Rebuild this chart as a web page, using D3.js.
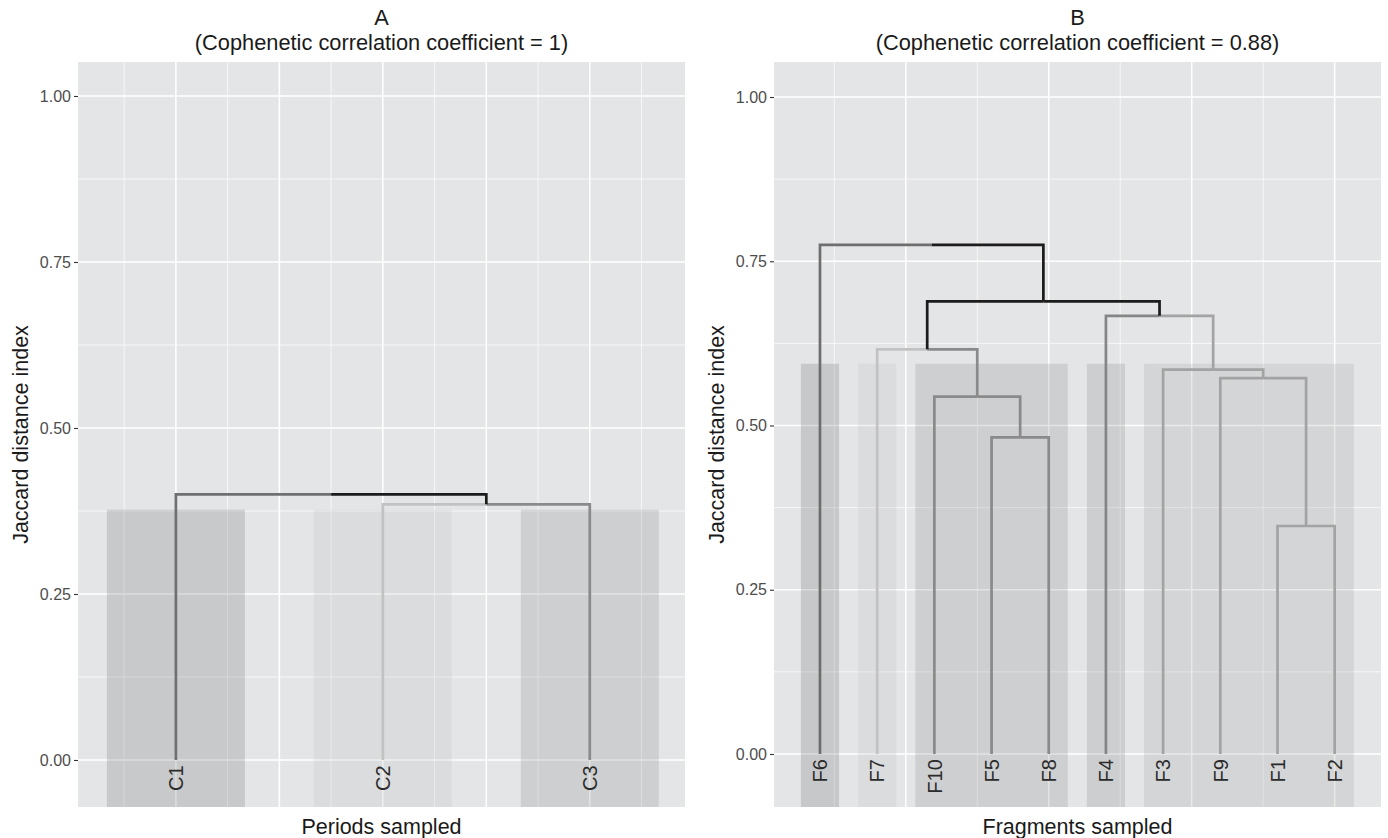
<!DOCTYPE html>
<html>
<head>
<meta charset="utf-8">
<script src="https://cdn.jsdelivr.net/npm/d3@7"></script>
<style>
  body { margin: 0; background: #fff; }
  svg { display: block; font-family: "Liberation Sans", Arial, sans-serif; }
</style>
</head>
<body>
<svg id="chart" width="1388" height="838"></svg>
<script>
// ---- panel A : periods
var titleA = ["A", "(Cophenetic correlation coefficient = 1)"];
var xTitleA = "Periods sampled";
var leavesA = ["C1", "C2", "C3"];              // leaf order left to right
var mergeA = [[-2, -3], [-1, 1]];               // hclust style merges (neg = leaf position)
var heightA = [0.385, 0.400];
var clusterA = [1, 2, 3];                        // cluster of each leaf
var clusterColorsA = ["#707070", "#c2c2c2", "#8a8a8a"];
var rectTopA = 0.377;

// ---- panel B : fragments
var titleB = ["B", "(Cophenetic correlation coefficient = 0.88)"];
var xTitleB = "Fragments sampled";
var leavesB = ["F6", "F7", "F10", "F5", "F8", "F4", "F3", "F9", "F1", "F2"];
var mergeB = [[-9, -10], [-4, -5], [-3, 2], [-8, 1], [-7, 4], [-2, 3], [-6, 5], [6, 7], [-1, 8]];
var heightB = [0.347, 0.482, 0.544, 0.572, 0.585, 0.616, 0.667, 0.689, 0.775];
var clusterB = [1, 2, 3, 3, 3, 4, 5, 5, 5, 5];
var clusterColorsB = ["#6e6e6e", "#c2c2c2", "#8a8a8a", "#858585", "#a3a3a3"];
var rectTopB = 0.594;

var yTicks = [0, 0.25, 0.5, 0.75, 1];
var yMinor = [0.125, 0.375, 0.625, 0.875];
var yTitle = "Jaccard distance index";

var svg = d3.select("#chart");

function drawPanel(opt) {
    var x = d3.scaleLinear().domain(opt.xDomain).range([opt.left, opt.right]);
    var y = d3.scaleLinear().domain(opt.yDomain).range([opt.bottom, opt.top]);
    var g = svg.append("g");

    // panel background
    g.append("rect")
        .attr("x", opt.left).attr("y", opt.top)
        .attr("width", opt.right - opt.left).attr("height", opt.bottom - opt.top)
        .attr("fill", "#e4e5e7");

    // grid lines
    g.selectAll(".hmin").data(yMinor).enter().append("line")
        .attr("x1", opt.left).attr("x2", opt.right)
        .attr("y1", function (d) { return y(d); }).attr("y2", function (d) { return y(d); })
        .attr("stroke", "#fff").attr("stroke-width", 0.7);
    g.selectAll(".vmin").data(opt.xMinor).enter().append("line")
        .attr("y1", opt.top).attr("y2", opt.bottom)
        .attr("x1", function (d) { return x(d); }).attr("x2", function (d) { return x(d); })
        .attr("stroke", "#fff").attr("stroke-width", 0.7);
    g.selectAll(".hmaj").data(yTicks).enter().append("line")
        .attr("x1", opt.left).attr("x2", opt.right)
        .attr("y1", function (d) { return y(d); }).attr("y2", function (d) { return y(d); })
        .attr("stroke", "#fff").attr("stroke-width", 1.5);
    g.selectAll(".vmaj").data(opt.xMajor).enter().append("line")
        .attr("y1", opt.top).attr("y2", opt.bottom)
        .attr("x1", function (d) { return x(d); }).attr("x2", function (d) { return x(d); })
        .attr("stroke", "#fff").attr("stroke-width", 1.5);

    // build the tree from the merge table
    var nodes = [];
    opt.leaves.forEach(function (name, i) {
        nodes.push({ x: i + 1, h: 0, leaves: [i], name: name });
    });
    var internal = opt.merge.map(function (m, i) {
        return { pair: m, h: opt.heights[i] };
    });
    function getNode(k) { return k < 0 ? nodes[-k - 1] : internal[k - 1]; }
    internal.forEach(function (n) {
        var a = getNode(n.pair[0]), b = getNode(n.pair[1]);
        n.children = [a, b];
        n.x = (a.x + b.x) / 2;
        n.leaves = a.leaves.concat(b.leaves);
        a.parent = n; b.parent = n;
    });
    var all = nodes.concat(internal);
    all.forEach(function (n) {
        var cl = n.leaves.map(function (i) { return opt.cluster[i]; });
        var same = cl.every(function (c) { return c === cl[0]; });
        n.color = same ? opt.colors[cl[0] - 1] : "#1c1c1c";
    });

    // cluster rectangles
    var clusters = d3.groups(opt.leaves.map(function (d, i) { return { i: i + 1, c: opt.cluster[i] }; }),
        function (d) { return d.c; });
    g.selectAll(".clrect").data(clusters).enter().append("rect")
        .attr("x", function (d) { return x(d3.min(d[1], function (e) { return e.i; }) - 1 / 3); })
        .attr("width", function (d) {
            return x(d3.max(d[1], function (e) { return e.i; }) + 1 / 3) - x(d3.min(d[1], function (e) { return e.i; }) - 1 / 3);
        })
        .attr("y", y(opt.rectTop))
        .attr("height", opt.bottom - y(opt.rectTop))
        .attr("fill", function (d) { return opt.colors[d[0] - 1]; })
        .attr("fill-opacity", 0.24);

    // branches
    g.selectAll(".branch").data(all.filter(function (n) { return n.parent; })).enter().append("path")
        .attr("d", function (n) {
            return "M" + x(n.x) + "," + y(n.h) + "V" + y(n.parent.h) + "H" + x(n.parent.x);
        })
        .attr("fill", "none")
        .attr("stroke", function (n) { return n.color; })
        .attr("stroke-width", 2.7)
        .attr("stroke-linejoin", "miter");

    // leaf labels
    g.selectAll(".leaf").data(nodes).enter().append("text")
        .attr("transform", function (n) { return "translate(" + x(n.x) + "," + y(-0.008) + ") rotate(-90)"; })
        .attr("text-anchor", "end")
        .attr("dy", "0.36em")
        .attr("font-size", 20)
        .attr("fill", "#2b2b2b")
        .text(function (n) { return n.name; });

    // y axis
    var yAxis = g.append("g")
        .attr("transform", "translate(" + opt.left + ",0)")
        .call(d3.axisLeft(y).tickValues(yTicks).tickFormat(d3.format(".2f")).tickSize(4).tickPadding(3));
    yAxis.select(".domain").remove();
    yAxis.selectAll(".tick line").attr("stroke", "#333").attr("stroke-width", 1.1);
    yAxis.selectAll(".tick text")
        .attr("fill", "#4d4d4d")
        .attr("font-size", 16)
        .attr("font-family", "Liberation Sans, Arial, sans-serif");

    // titles
    var cx = (opt.left + opt.right) / 2;
    g.selectAll(".ttl").data(opt.title).enter().append("text")
        .attr("x", cx)
        .attr("y", function (d, i) { return 25 + i * 25; })
        .attr("text-anchor", "middle")
        .attr("font-size", 21.8)
        .attr("fill", "#1a1a1a")
        .text(function (d) { return d; });

    g.append("text")
        .attr("x", cx).attr("y", 834)
        .attr("text-anchor", "middle")
        .attr("font-size", 21.5)
        .attr("fill", "#1a1a1a")
        .text(opt.xTitle);

    g.append("text")
        .attr("transform", "translate(" + (opt.left - 50) + "," + ((opt.top + opt.bottom) / 2) + ") rotate(-90)")
        .attr("text-anchor", "middle")
        .attr("font-size", 21.5)
        .attr("fill", "#1a1a1a")
        .text(yTitle);
}

drawPanel({
    left: 78, right: 685, top: 62, bottom: 807,
    xDomain: [0.527, 3.46], yDomain: [-0.0708, 1.0512],
    xMajor: [1, 1.5, 2, 2.5, 3], xMinor: [0.75, 1.25, 1.75, 2.25, 2.75, 3.25],
    leaves: leavesA, merge: mergeA, heights: heightA, cluster: clusterA,
    colors: clusterColorsA, rectTop: rectTopA, title: titleA, xTitle: xTitleA
});

drawPanel({
    left: 774, right: 1381, top: 62, bottom: 807,
    xDomain: [0.196, 10.81], yDomain: [-0.0807, 1.0533],
    xMajor: [2.5, 5, 7.5, 10], xMinor: [1.25, 3.75, 6.25, 8.75],
    leaves: leavesB, merge: mergeB, heights: heightB, cluster: clusterB,
    colors: clusterColorsB, rectTop: rectTopB, title: titleB, xTitle: xTitleB
});
</script>
</body>
</html>
